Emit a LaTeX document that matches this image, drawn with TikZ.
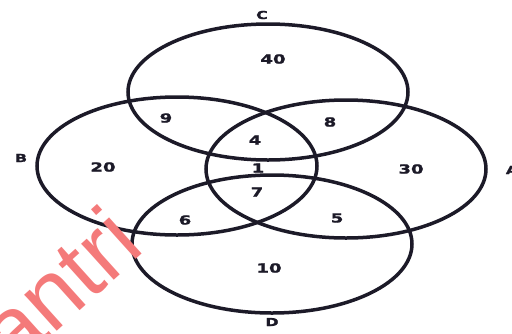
\documentclass[tikz,border=0pt]{standalone}
\usepackage{fontspec}
\newfontfamily\digitfont[FakeStretch=1.45, FakeBold=1.5]{DejaVu Sans}
\newfontfamily\markfont{Liberation Sans}
\usetikzlibrary{shapes.geometric, positioning}
\definecolor{ink}{RGB}{28,26,40}
\definecolor{wmark}{RGB}{244,122,122}

\begin{document}
\begin{tikzpicture}[
        x=1pt, y=-1pt,
        set/.style={ellipse, draw=ink, line width=3.5pt, minimum width=280pt, minimum height=138pt, inner sep=0pt},
        count/.style={font=\digitfont\bfseries\fontsize{12.5}{13}\selectfont, text=ink, inner sep=0pt},
        setname/.style={font=\digitfont\bfseries\fontsize{11}{12}\selectfont, text=ink, inner sep=0pt}
    ]
    \useasboundingbox (0,0) rectangle (512,333);

    % the four sets
    \node[set, minimum height=136pt] (C) at (268,92) {};
    \node[set] (B) at (177,166) {};
    \node[set] (A) at (346,169) {};
    \node[set] (D) at (272,244) {};

    % set names
    \node[setname] (nameC) at (262,15) {C};
    \node[setname] (nameB) at (21,158) {B};
    \node[setname] (nameA) at (512,170) {A};
    \node[setname] (nameD) at (272,322) {D};

    % region counts
    \node[count] (onlyC) at (273,59)  {40};
    \node[count] (onlyB) at (103,167) {20};
    \node[count] (onlyA) at (411,169) {30};
    \node[count] (onlyD) at (269,268) {10};
    \node[count] (BC)    at (166,118) {9};
    \node[count] (AC)    at (330,122) {8};
    \node[count] (ABC)   at (255,140) {4};
    \node[count] (ABCD)  at (258,168) {1};
    \node[count] (ABD)   at (257,192) {7};
    \node[count] (BD)    at (185,220) {6};
    \node[count] (AD)    at (337,218) {5};

    % watermark
    \node[font=\markfont\fontsize{92}{92}\selectfont, text=wmark, anchor=base west,
          rotate=42, inner sep=0pt] (mark) at (14,370) {antri};
\end{tikzpicture}
\end{document}
